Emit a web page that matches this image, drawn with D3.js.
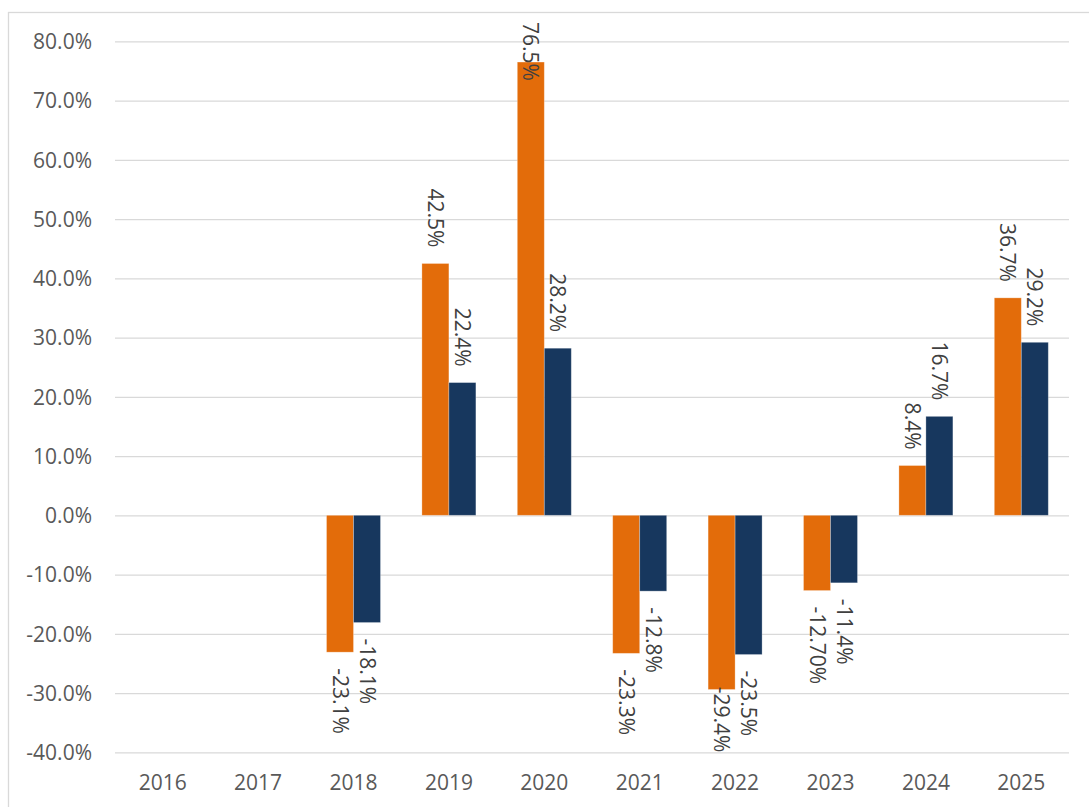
<!DOCTYPE html>
<html>
<head>
<meta charset="utf-8">
<script src="https://cdn.jsdelivr.net/npm/d3@7"></script>
<style>
  html, body { margin: 0; padding: 0; background: #fff; }
  svg { display: block; }
  text { font-family: "Open Sans", "Liberation Sans", sans-serif; }
</style>
</head>
<body>
<svg id="chart" width="1089" height="807"></svg>
<script>
// ---- data ----
const years = ["2016","2017","2018","2019","2020","2021","2022","2023","2024","2025"];
const seriesA = [null, null, -23.1, 42.5, 76.5, -23.3, -29.4, -12.7, 8.4, 36.7];
const seriesB = [null, null, -18.1, 22.4, 28.2, -12.8, -23.5, -11.4, 16.7, 29.2];
const labelsA = [null, null, "-23.1%", "42.5%", "76.5%", "-23.3%", "-29.4%", "-12.70%", "8.4%", "36.7%"];
const labelsB = [null, null, "-18.1%", "22.4%", "28.2%", "-12.8%", "-23.5%", "-11.4%", "16.7%", "29.2%"];
const yTicks = [-40, -30, -20, -10, 0, 10, 20, 30, 40, 50, 60, 70, 80];
const seriesKeys = ["A", "B"];
const colors = { A: "#E36C0A", B: "#17375E" };

// ---- layout ----
const svg = d3.select("#chart");
const plot = { left: 115, right: 1069, top: 41.3, bottom: 752.3 };

svg.append("rect")
  .attr("x", 8.5).attr("y", 12.5)
  .attr("width", 1200).attr("height", 900)
  .attr("fill", "none").attr("stroke", "#d9d9d9").attr("stroke-width", 1.3);

const y = d3.scaleLinear().domain([-40, 80]).range([plot.bottom, plot.top]);
const x0 = d3.scaleBand().domain(years).range([plot.left, plot.right]).paddingInner(0).paddingOuter(0);
const x1 = d3.scaleBand().domain(seriesKeys).range([0, x0.bandwidth()]).paddingInner(0).paddingOuter(0.767);

// gridlines + y labels
const yAxis = svg.append("g")
  .attr("transform", `translate(${plot.left},0)`)
  .call(d3.axisLeft(y).tickValues(yTicks)
    .tickFormat(d => d.toFixed(1) + "%")
    .tickSize(-(plot.right - plot.left))
    .tickPadding(23));
yAxis.select(".domain").remove();
yAxis.selectAll(".tick line").attr("stroke", "#d9d9d9").attr("stroke-width", 1.3);
yAxis.selectAll(".tick text")
  .attr("fill", "#595959").style("font-size", "21px").attr("dy", "0.35em");

// x labels
const xAxis = svg.append("g")
  .attr("transform", `translate(0,${plot.bottom})`)
  .call(d3.axisBottom(x0).tickSize(0).tickPadding(23));
xAxis.select(".domain").remove();
xAxis.selectAll(".tick text").attr("fill", "#595959").style("font-size", "21px");

// bars
const rows = years.map((yr, i) => ({
  year: yr,
  items: [
    { key: "A", v: seriesA[i], label: labelsA[i] },
    { key: "B", v: seriesB[i], label: labelsB[i] }
  ].filter(d => d.v !== null)
}));

const groups = svg.append("g").selectAll("g.grp")
  .data(rows).join("g")
  .attr("class", "grp")
  .attr("transform", d => `translate(${x0(d.year)},0)`);

groups.selectAll("rect")
  .data(d => d.items).join("rect")
  .attr("x", d => x1(d.key))
  .attr("width", x1.bandwidth())
  .attr("y", d => y(Math.max(0, d.v)))
  .attr("height", d => Math.abs(y(d.v) - y(0)))
  .attr("fill", d => colors[d.key])
  .attr("stroke", "#ffffff").attr("stroke-opacity", 0.35).attr("stroke-width", 0.8);

// data labels (rotated 90deg)
const gap = 16;
const labelTop = 22, labelBottom = plot.bottom;
groups.selectAll("text.lbl")
  .data(d => d.items).join("text")
  .attr("class", "lbl")
  .attr("fill", "#404040")
  .style("font-size", "21px")
  .attr("dy", "0.35em")
  .text(d => d.label)
  .each(function(d) {
    const t = d3.select(this);
    const len = this.getComputedTextLength();
    const cx = x1(d.key) + x1.bandwidth() / 2;
    let anchor, py;
    if (d.v >= 0) {
      let end = y(d.v) - gap;
      if (end - len < labelTop) { anchor = "start"; py = labelTop; }
      else { anchor = "end"; py = end; }
    } else {
      let start = y(d.v) + gap;
      if (start + len > labelBottom) { anchor = "end"; py = labelBottom; }
      else { anchor = "start"; py = start; }
    }
    t.attr("text-anchor", anchor)
     .attr("transform", `translate(${cx},${py}) rotate(90)`);
  });
</script>
</body>
</html>
